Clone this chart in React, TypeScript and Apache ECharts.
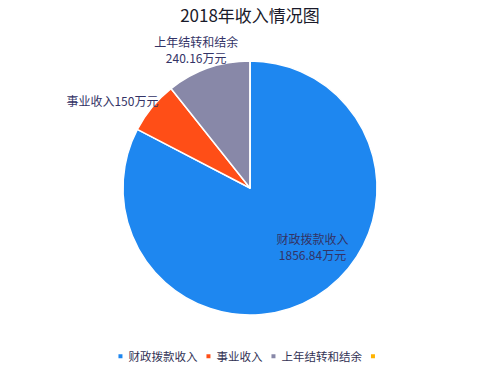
import React, { useEffect, useRef } from "react";
import * as echarts from "echarts";

const titleText = "2018年收入情况图";
const categories = ["财政拨款收入", "事业收入", "上年结转和结余", " "];
const values = [1856.84, 150, 240.16, 0];
const colors = ["#1E87F0", "#FF4E17", "#8888A8", "#FFB300"];
const unit = "万元";

export default function App() {
  const ref = useRef<HTMLDivElement>(null);
  useEffect(() => {
    if (!ref.current) return;
    const chart = echarts.init(ref.current, null, { renderer: "svg" });
    const font = "'Noto Sans CJK SC', 'Microsoft YaHei', sans-serif";
    const labelFmt = [
      (n: string, v: number) => `${n}\n${v}${unit}`,
      (n: string, v: number) => `${n}${v}${unit}`,
      (n: string, v: number) => `${n}\n${v}${unit}`,
      () => "",
    ];
    const data = categories.map((name, i) => ({
      name,
      value: values[i],
      itemStyle: { color: colors[i] },
      label: {
        show: i < 3,
        position: i === 0 ? "inside" : "outside",
        formatter: labelFmt[i](name, values[i]),
        align: "center",
      },
    }));
    chart.setOption({
      animation: false,
      textStyle: { fontFamily: font },
      title: {
        text: titleText,
        left: "center",
        top: 1,
        textStyle: { fontSize: 17, fontWeight: "normal", color: "#1a1a2a", fontFamily: font },
      },
      legend: {
        bottom: 8,
        left: "center",
        itemWidth: 6,
        itemHeight: 6,
        itemGap: 7,
        icon: "rect",
        textStyle: { fontSize: 11.5, color: "#333355", fontFamily: font },
        data: categories,
      },
      series: [
        {
          type: "pie",
          center: [250, 188],
          radius: 127,
          startAngle: 90,
          clockwise: true,
          data,
          itemStyle: { borderColor: "#fff", borderWidth: 1.5 },
          label: { fontSize: 12, color: "#333366", lineHeight: 16, fontFamily: font },
          labelLine: { show: false, length: 6, length2: 0 },
          emphasis: { disabled: true },
          labelLayout: (p: any) => {
            const offs = [
              [28, 2],
              [16, -3],
              [37, -13],
              [0, 0],
            ];
            const o = offs[p.dataIndex] || [0, 0];
            const r = p.labelRect;
            return {
              x: r.x + r.width / 2 + o[0],
              y: r.y + r.height / 2 + o[1],
              align: "center",
              verticalAlign: "middle",
            };
          },
        },
      ],
    });
    return () => chart.dispose();
  }, []);
  return <div ref={ref} style={{ width: 500, height: 375, margin: -8 }} />;
}
